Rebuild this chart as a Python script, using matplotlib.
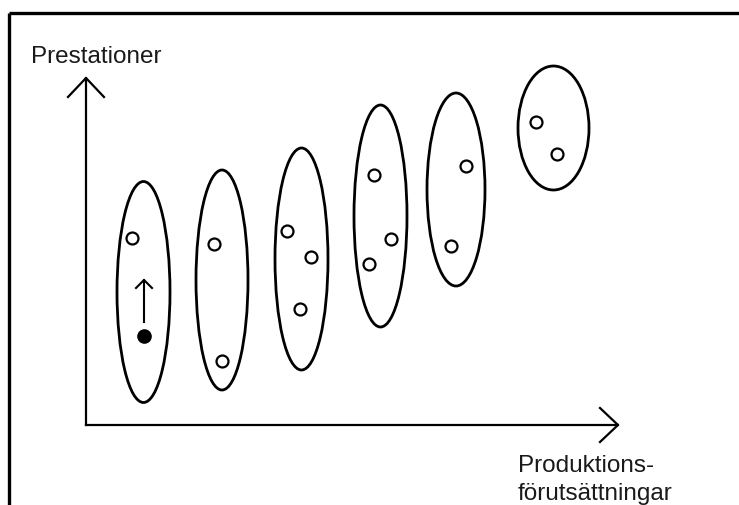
import matplotlib
matplotlib.use("Agg")
import matplotlib.pyplot as plt
from matplotlib.patches import Ellipse

# coordinates: origin where the two axes meet, 1 unit = 1 pixel
# groups of units (ellipses): centre x, centre y, width, height
ell_x = [57.5, 136, 215.5, 294.5, 370, 467.5]
ell_y = [133, 145, 166, 209, 235.5, 297]
ell_w = [53, 52, 53, 53, 58, 71]
ell_h = [221, 220, 222, 222, 193, 124]

# single units (open circles)
pt_x = [46, 128, 136, 201, 225, 214, 288, 305, 283, 380, 365, 450, 471]
pt_y = [187, 181, 64, 194, 168, 116, 250, 186, 161, 259, 179, 303, 271]

# the one unit that improves (filled dot + arrow)
dot_x, dot_y = 58, 89
dot_to_y = 145

x_label = ["Produktions-", "förutsättningar"]
y_label = "Prestationer"

fig = plt.figure(figsize=(7.39, 5.05), dpi=100)
ax = fig.add_axes([0, 0, 1, 1])
ax.set_xlim(-86, 653)
ax.set_ylim(-80, 425)
ax.axis("off")

# frame (top and left only, the rest is cropped)
ax.plot([-77, 653], [412, 412], color="black", lw=2.4, solid_capstyle="butt")
ax.plot([-77, -77], [-80, 412], color="black", lw=2.4, solid_capstyle="butt")

# axes with open arrow heads
ax.plot([0, 0], [0, 347], color="black", lw=1.6)
ax.plot([-18, 0, 18], [328, 347, 328], color="black", lw=1.6)
ax.plot([0, 532], [0, 0], color="black", lw=1.6)
ax.plot([514, 532, 514], [17, 0, -17], color="black", lw=1.6)

for cx, cy, w, h in zip(ell_x, ell_y, ell_w, ell_h):
    ax.add_patch(Ellipse((cx, cy), w, h, fill=False, edgecolor="black", lw=2.0))

ax.plot(pt_x, pt_y, "o", ms=8.6, mfc="white", mec="black", mew=1.6, ls="none")

ax.plot([dot_x], [dot_y], "o", ms=9.5, color="black")
ax.plot([dot_x, dot_x], [dot_y + 14, dot_to_y], color="black", lw=1.5)
ax.plot([dot_x - 8, dot_x, dot_x + 8], [dot_to_y - 8, dot_to_y, dot_to_y - 8],
        color="black", lw=1.5)

ax.text(-55, 362, y_label, fontsize=17.5, family="Liberation Sans",
        color="#1a1a1a", ha="left", va="baseline")
ax.text(432, -47, x_label[0], fontsize=17.5, family="Liberation Sans",
        color="#1a1a1a", ha="left", va="baseline")
ax.text(432, -75, x_label[1], fontsize=17.5, family="Liberation Sans",
        color="#1a1a1a", ha="left", va="baseline")

fig.savefig("out.png", dpi=100)
